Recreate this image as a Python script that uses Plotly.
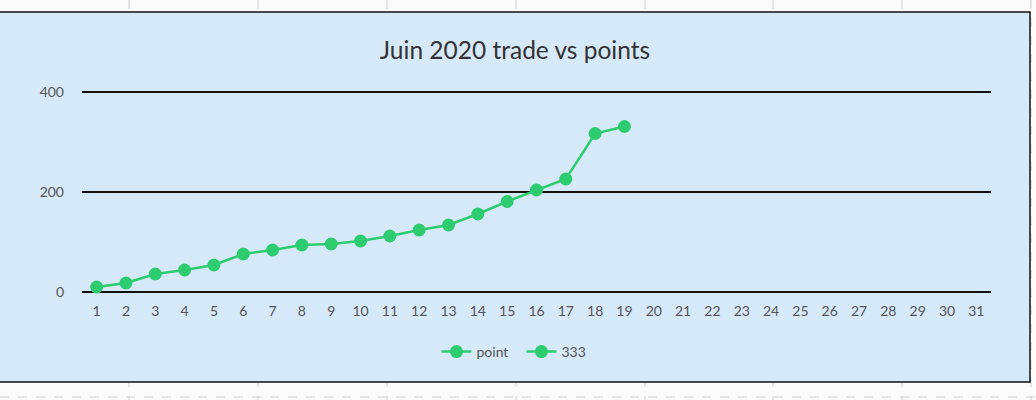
import plotly.graph_objects as go

days = [str(d) for d in range(1, 32)]
point_values = [10, 18, 36, 44, 54, 76, 84, 94, 96, 102, 112, 124, 134, 156, 181, 204, 226, 317, 331] + [None] * 12
series_333 = [None] * 31
y_ticks = [0, 200, 400]

W, H = 1036, 400
L, R, T, B = 82, 991, 87, 297  # plot area in pixels


def px(x):
    return (x - L) / (R - L)


def py(y):
    return (B - y) / (B - T)


green = "#2ecc71"
fig = go.Figure()
fig.add_trace(go.Scatter(x=days, y=point_values, name="point", mode="lines+markers",
                         line=dict(color=green, width=2.5), marker=dict(color=green, size=13)))
fig.add_trace(go.Scatter(x=days, y=series_333, name="333", mode="lines+markers",
                         line=dict(color=green, width=2.5), marker=dict(color=green, size=13)))

shapes = []
for xv in [129, 258, 387, 516, 645, 773, 902, 1031]:
    shapes.append(dict(type="line", xref="paper", yref="paper", x0=px(xv), x1=px(xv), y0=py(0), y1=py(400),
                       line=dict(color="#d0d0d0", width=1, dash="dash"), layer="below"))
for yv in [397]:
    shapes.append(dict(type="line", xref="paper", yref="paper", x0=px(0), x1=px(1036), y0=py(yv), y1=py(yv),
                       line=dict(color="#d0d0d0", width=1, dash="dash"), layer="below"))
shapes.append(dict(type="rect", xref="paper", yref="paper", x0=px(-10), x1=px(1030), y0=py(382), y1=py(12),
                   fillcolor="#d6e9f8", line=dict(color="#111111", width=1.5), layer="below"))

fig.update_layout(
    width=W, height=H,
    margin=dict(l=L, r=W - R, t=T, b=H - B),
    paper_bgcolor="#fbfbfb", plot_bgcolor="rgba(0,0,0,0)",
    font=dict(family="Lato, sans-serif", color="#555555", size=14),
    title=dict(text="Juin 2020 trade vs points", x=515 / W, xanchor="center", xref="container",
               y=1 - 50 / H, yanchor="middle", yref="container", font=dict(size=24.5, color="#333333")),
    shapes=shapes,
    showlegend=True,
    legend=dict(orientation="h", x=0.5 - 15 / (R - L), xanchor="center", y=py(352), yanchor="middle",
                font=dict(size=14, color="#555555"), bgcolor="rgba(0,0,0,0)", entrywidth=40),
    xaxis=dict(type="category", range=[-0.5, 30.5], showgrid=False, zeroline=False, showline=False,
               ticks="", tickfont=dict(size=14, color="#555555"), ticklabelstandoff=4),
    yaxis=dict(range=[-10, 410], tickvals=y_ticks, showgrid=True, gridcolor="#111111", gridwidth=1.5,
               zeroline=False, showline=False, ticks="", tickfont=dict(size=14, color="#555555"),
               ticklabelstandoff=17),
)

fig.write_html("out.html", post_script="document.body.style.margin='0';",
               config={"displayModeBar": False})
